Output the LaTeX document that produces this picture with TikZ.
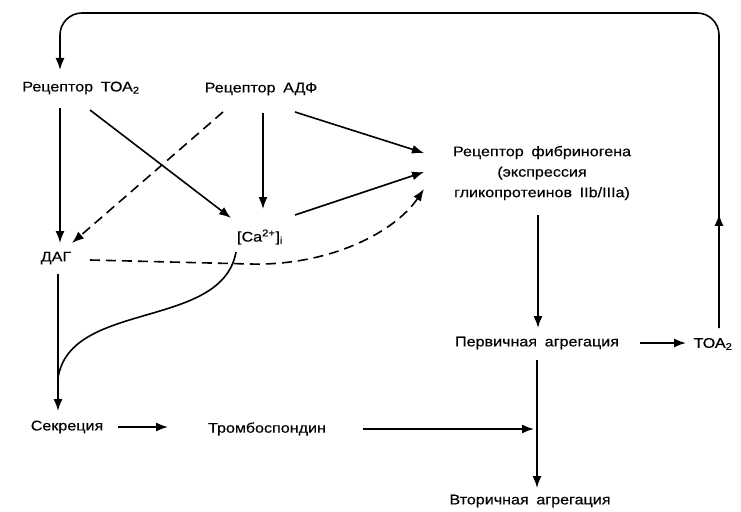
\documentclass[tikz,border=0pt]{standalone}
\usepackage{fontspec}
\setmainfont{Liberation Sans}[FakeStretch=1.15,FakeBold=0.4]
\usetikzlibrary{arrows.meta,decorations.markings}
\newcommand{\gap}{\hspace{0.55em}}
\begin{document}
\begin{tikzpicture}[x=1pt,y=-1pt,
  lbl/.style={inner sep=1pt, font=\fontsize{14}{20.5}\selectfont, align=center},
  conn/.style={line width=1.6pt, -{Latex[length=12pt,width=9pt]}},
  dconn/.style={conn, dash pattern=on 10pt off 6pt}]
\useasboundingbox (0,0) rectangle (741,511);

% nodes
\node[lbl] (tra)  at (81,88)   {Рецептор\gap ТОА\textsubscript{2}};
\node[lbl] (adp)  at (261,89)  {Рецептор\gap АДФ};
\node[lbl] (fib)  at (542,173) {Рецептор\gap фибриногена\\(экспрессия\\гликопротеинов\gap IIb/IIIa)};
\node[lbl] (ca)   at (260,237) {[Ca\textsuperscript{2+}]\textsubscript{i}};
\node[lbl] (dag)  at (56,258)  {ДАГ};
\node[lbl] (prim) at (537,343) {Первичная\gap агрегация};
\node[lbl] (toa)  at (713,344) {ТОА\textsubscript{2}};
\node[lbl] (sec)  at (67,427)  {Секреция};
\node[lbl] (tsp)  at (267,429) {Тромбоспондин};
\node[lbl] (sec2) at (530,501) {Вторичная\gap агрегация};

\coordinate (join) at (58,378);
\coordinate (tsend) at (534,429);

% feedback loop from TOA2 to its receptor
\draw[line width=1.6pt, rounded corners=22pt,
  postaction={decorate},
  decoration={markings, mark=at position 0.115 with {\arrow{Latex[length=12pt,width=9pt]}}}]
  (719,328) -- (719,13) -- (60,13) -- (60,50);
\draw[conn] (60,40) -- (60,70);

% receptor signalling
\draw[conn] (60,108) -- (60,243);
\draw[conn] (90,110) -- (231,218);
\draw[dconn] (223,112) -- (72,243);
\draw[conn] (263,113) -- (263,209);
\draw[conn] (295,112) -- (424,153);
\draw[conn] (295,215) -- (424,172);
\draw[dconn] (90,260) -- (250,264) .. controls (330,266) and (395,232) .. (424,189);

% secretion branch
\draw[conn] (58,274) -- (58,411);
\draw[line width=1.6pt] (236,252) .. controls (222,330) and (70,300) .. (join);
\draw[conn] (118,427) -- (168,427);
\draw[conn] (363,429) -- (tsend);

% aggregation
\draw[conn] (538,215) -- (538,328);
\draw[conn] (537,360) -- (537,488);
\draw[conn] (640,343) -- (686,343);
\end{tikzpicture}
\end{document}
